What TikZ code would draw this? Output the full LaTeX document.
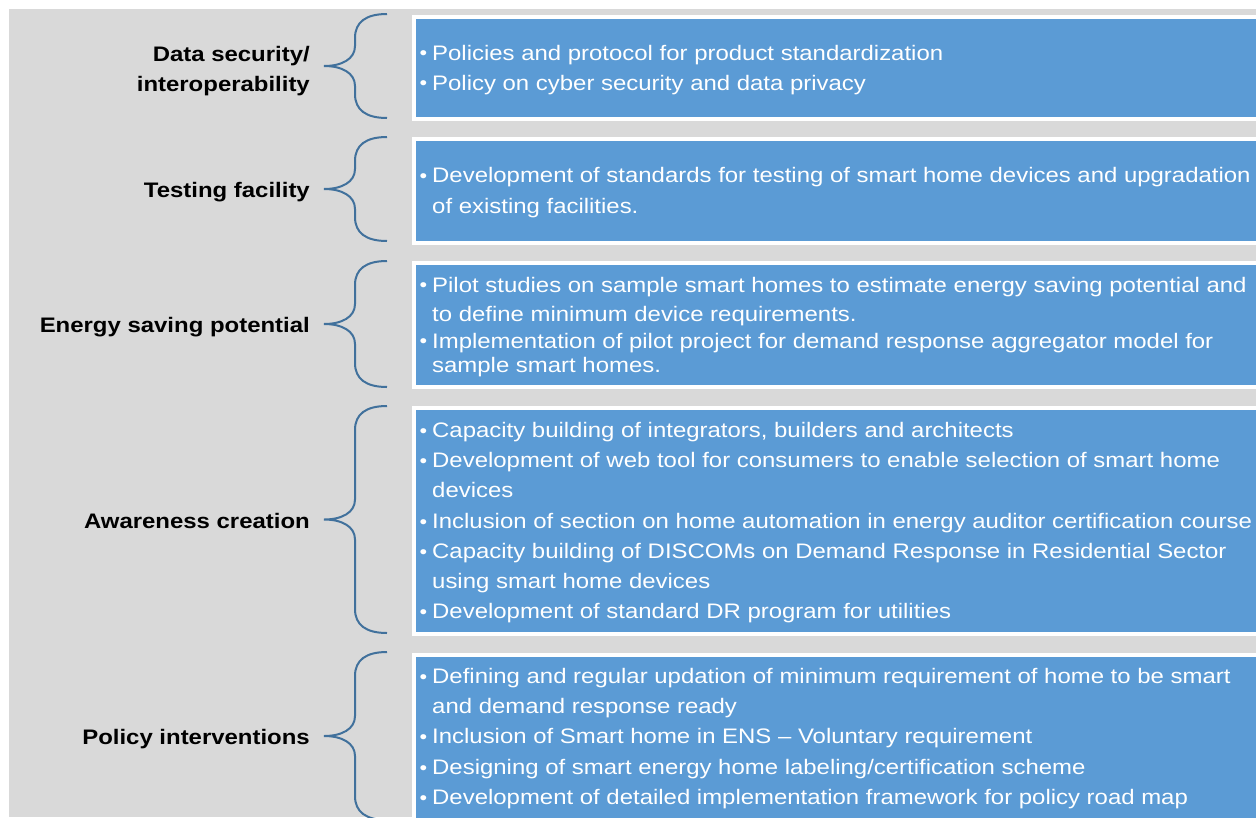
\documentclass[tikz,border=0pt]{standalone}
\usepackage{fontspec}
\setmainfont[FakeStretch=1.14]{Liberation Sans}
\definecolor{bgGray}{RGB}{217,217,217}
\definecolor{boxBlue}{RGB}{91,155,213}
\definecolor{braceBlue}{RGB}{65,113,156}
\begin{document}
\begin{tikzpicture}[x=1pt,y=-1pt,
  boxnode/.style={draw=white,line width=4pt,fill=boxBlue,anchor=north west,inner sep=0pt,minimum width=860pt},
  bracecurve/.style={draw=braceBlue,line width=2pt},
  lbl/.style={anchor=base east,inner sep=0pt,font=\fontsize{21}{25}\selectfont\bfseries,text=black},
  itm/.style={anchor=base west,inner sep=0pt,font=\fontsize{21}{25}\selectfont,text=white},
  bul/.style={anchor=base west,inner sep=0pt,font=\fontsize{19}{22}\selectfont,text=white}]
\useasboundingbox (0,0) rectangle (1256,817);
\fill[bgGray] (9,9) rectangle (1256,817);
\begin{scope}
\clip (0,0) rectangle (1256,817);
% boxes
\node[boxnode,minimum height=102pt] (b1) at (412,15) {};
\node[boxnode,minimum height=104pt] (b2) at (412,137) {};
\node[boxnode,minimum height=124pt] (b3) at (412,261) {};
\node[boxnode,minimum height=226pt] (b4) at (412,406) {};
\node[boxnode,minimum height=180pt] (b5) at (412,653) {};
% braces
\foreach \t/\b in {14/118,137/241,261/387,406/633,652/820}{
  \pgfmathsetmacro\m{(\t+\b)/2}
  \draw[bracecurve] (387,\t) .. controls (366,\t) and (355,{\t+8}) .. (355,{\t+24})
    -- (355,{\m-20}) .. controls (355,{\m-7}) and (342,\m) .. (324,\m)
    .. controls (342,\m) and (355,{\m+7}) .. (355,{\m+20})
    -- (355,{\b-24}) .. controls (355,{\b-8}) and (366,\b) .. (387,\b);
}
\end{scope}
% labels
\node[lbl] (l1a) at (310,61) {Data security/};
\node[lbl] (l1b) at (310,91) {interoperability};
\node[lbl] (l2) at (310,197.5) {Testing facility};
\node[lbl] (l3) at (310,332.5) {Energy saving potential};
\node[lbl] (l4) at (310,528.5) {Awareness creation};
\node[lbl] (l5) at (310,744) {Policy interventions};
% bullets and items
\foreach \y in {60,90,182.5,292,348,437.5,467.5,528.5,558.5,618.5,683.5,743.5,774.5,804.5}{
  \node[bul] at (419.5,{\y-0.5}) {•};
}
\node[itm] (t11) at (432,60) {Policies and protocol for product standardization};
\node[itm] (t12) at (432,90) {Policy on cyber security and data privacy};
\node[itm] (t21) at (432,182.5) {Development of standards for testing of smart home devices and upgradation};
\node[itm] (t22) at (432,213) {of existing facilities.};
\node[itm] (t31) at (432,292) {Pilot studies on sample smart homes to estimate energy saving potential and};
\node[itm] (t32) at (432,321) {to define minimum device requirements.};
\node[itm] (t33) at (432,348) {Implementation of pilot project for demand response aggregator model for};
\node[itm] (t34) at (432,372) {sample smart homes.};
\node[itm] (t41) at (432,437.5) {Capacity building of integrators, builders and architects};
\node[itm] (t42) at (432,467.5) {Development of web tool for consumers to enable selection of smart home};
\node[itm] (t43) at (432,497.5) {devices};
\node[itm] (t44) at (432,528.5) {Inclusion of section on home automation in energy auditor certification course};
\node[itm] (t45) at (432,558.5) {Capacity building of DISCOMs on Demand Response in Residential Sector};
\node[itm] (t46) at (432,588.5) {using smart home devices};
\node[itm] (t47) at (432,618.5) {Development of standard DR program for utilities};
\node[itm] (t51) at (432,683.5) {Defining and regular updation of minimum requirement of home to be smart};
\node[itm] (t52) at (432,713.5) {and demand response ready};
\node[itm] (t53) at (432,743.5) {Inclusion of Smart home in ENS – Voluntary requirement};
\node[itm] (t54) at (432,774.5) {Designing of smart energy home labeling/certification scheme};
\node[itm] (t55) at (432,804.5) {Development of detailed implementation framework for policy road map};
\end{tikzpicture}
\end{document}
